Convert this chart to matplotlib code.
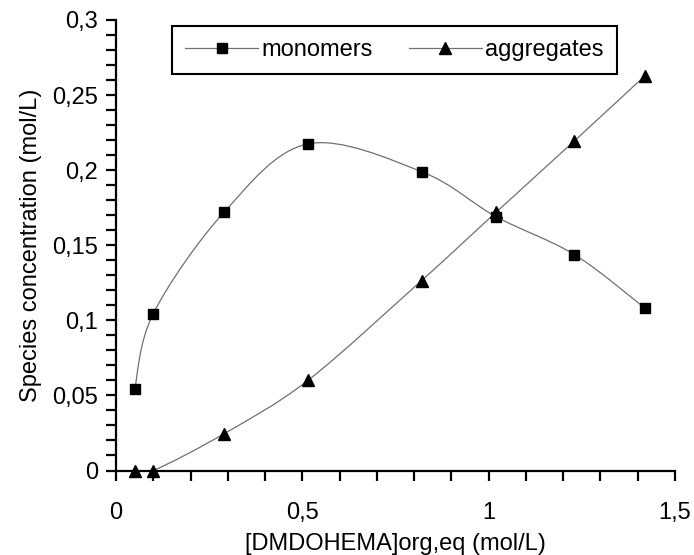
import numpy as np
import matplotlib
matplotlib.use("Agg")
import matplotlib.pyplot as plt
from matplotlib.path import Path
from matplotlib.patches import PathPatch
from matplotlib.lines import Line2D
from matplotlib.ticker import MultipleLocator, FuncFormatter

# data
conc = [0.05, 0.10, 0.29, 0.515, 0.82, 1.02, 1.23, 1.42]
monomers = [0.054, 0.1045, 0.172, 0.2175, 0.199, 0.169, 0.1438, 0.108]
aggregates = [0.0, 0.0, 0.0245, 0.06, 0.1265, 0.172, 0.2195, 0.263]

plt.rcParams['font.family'] = ['Liberation Sans', 'DejaVu Sans']
fs = 17
line_col = '#707070'


def smooth_path(x, y):
    # Excel-style smoothed line: cubic Bezier segments (Catmull-Rom control points)
    p = np.column_stack([x, y]).astype(float)
    ext = np.vstack([p[0], p, p[-1]])
    verts = [p[0]]
    codes = [Path.MOVETO]
    for i in range(1, len(ext) - 2):
        c1 = ext[i] + (ext[i + 1] - ext[i - 1]) / 6.0
        c2 = ext[i + 1] - (ext[i + 2] - ext[i]) / 6.0
        verts += [c1, c2, ext[i + 1]]
        codes += [Path.CURVE4] * 3
    return Path(verts, codes)


fig = plt.figure(figsize=(6.94, 5.55), dpi=100)
ax = fig.add_axes([116 / 694, 1 - 470.5 / 555, (675 - 116) / 694, 450.5 / 555])

for y in (monomers, aggregates):
    ax.add_patch(PathPatch(smooth_path(conc, y), facecolor='none',
                           edgecolor=line_col, lw=0.9, zorder=2))

ax.plot(conc, monomers, ls='none', marker='s', ms=7.7, color='black', zorder=3)
ax.plot(conc, aggregates, ls='none', marker='^', ms=9, color='black', zorder=3,
        clip_on=False)

ax.set_xlim(0, 1.5)
ax.set_ylim(0, 0.3)
ax.xaxis.set_major_locator(MultipleLocator(0.5))
ax.xaxis.set_minor_locator(MultipleLocator(0.1))
ax.yaxis.set_major_locator(MultipleLocator(0.05))
ax.yaxis.set_minor_locator(MultipleLocator(0.01))
comma = FuncFormatter(lambda v, pos: ('%g' % round(v, 4)).replace('.', ','))
ax.xaxis.set_major_formatter(comma)
ax.yaxis.set_major_formatter(comma)

for s in ('top', 'right'):
    ax.spines[s].set_visible(False)
for s in ('left', 'bottom'):
    ax.spines[s].set_linewidth(1.6)
ax.tick_params(which='both', direction='out', width=1.6, length=7, labelsize=fs)
ax.tick_params(axis='x', pad=16)
ax.tick_params(axis='y', pad=6)

ax.set_xlabel('[DMDOHEMA]org,eq (mol/L)', fontsize=fs, labelpad=6)
ax.set_ylabel('Species concentration (mol/L)', fontsize=fs, labelpad=7)

handles = [
    Line2D([], [], color=line_col, lw=0.9, marker='s', ms=7.7, mfc='black', mec='black'),
    Line2D([], [], color=line_col, lw=0.9, marker='^', ms=9, mfc='black', mec='black'),
]
leg = ax.legend(handles, ['monomers', 'aggregates'], ncol=2, fontsize=fs,
                loc='upper left', bbox_to_anchor=(172 / 694, 1 - 26 / 555),
                bbox_transform=fig.transFigure, borderaxespad=0,
                handlelength=3.1, handletextpad=0.15, columnspacing=1.5,
                borderpad=0.55, fancybox=False, framealpha=1)
leg.get_frame().set_edgecolor('black')
leg.get_frame().set_linewidth(1.5)

fig.savefig('out.png', dpi=100)
